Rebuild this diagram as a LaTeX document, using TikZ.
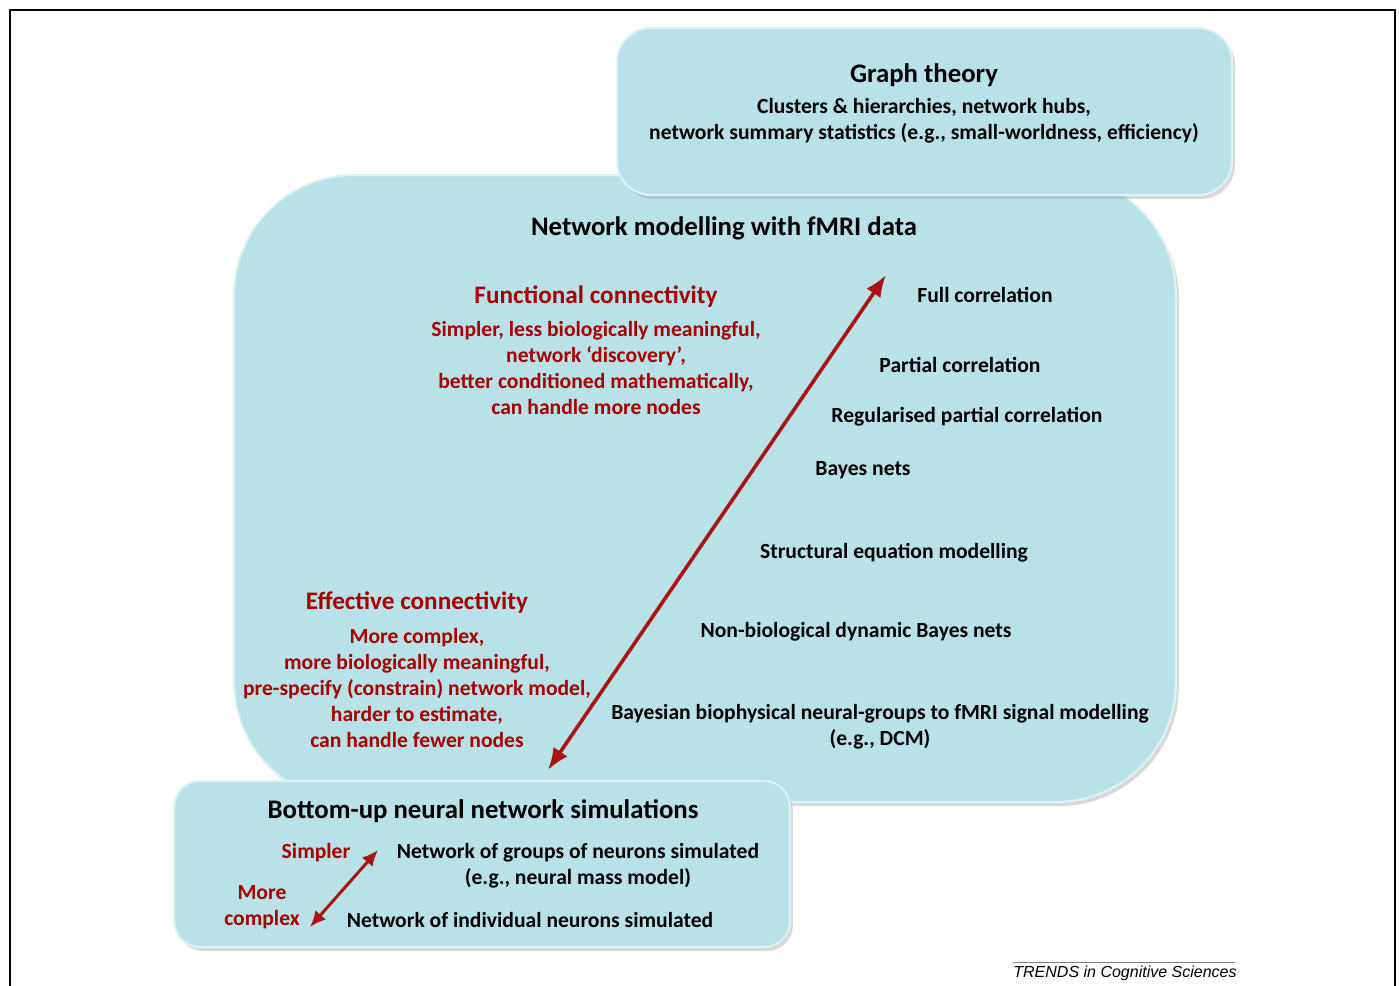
\documentclass[tikz,border=0pt]{standalone}
\usepackage{fontspec}
\setmainfont{Carlito}
\newfontfamily\trendsfont{Liberation Sans}
\usetikzlibrary{arrows.meta,shadows}

\definecolor{boxfill}{RGB}{184,226,232}
\definecolor{boxedge}{RGB}{222,243,246}
\definecolor{darkred}{RGB}{166,0,0}
\definecolor{arrowred}{RGB}{170,20,20}

\tikzset{
  panel/.style={fill=boxfill, draw=boxedge, line width=1pt,
    drop shadow={opacity=0.3, shadow xshift=1.5pt, shadow yshift=-2pt}},
  boxtitle/.style={font=\fontsize{13.4}{16}\selectfont\bfseries, text=black, inner sep=0pt, yshift=-1pt},
  redhead/.style={font=\fontsize{12.6}{15}\selectfont\bfseries, text=darkred, inner sep=0pt, yshift=-1pt},
  itemtext/.style={font=\fontsize{10.8}{13}\selectfont\bfseries, align=center, text=black, inner sep=0pt, yshift=-1pt},
  redtext/.style={itemtext, text=darkred},
  bigarrow/.style={arrowred, line width=1.8pt, {Latex[length=11pt,width=8.5pt]}-{Latex[length=11pt,width=8.5pt]}},
  smallarrow/.style={arrowred, line width=1.5pt, {Latex[length=8pt,width=7pt]}-{Latex[length=8pt,width=7pt]}}
}

\begin{document}
\begin{tikzpicture}[x=0.5pt, y=-0.5pt]
\useasboundingbox (0,0) rectangle (1399,986);
\draw[line width=0.6pt] (10,10) rectangle (1395,1010);

% boxes
\path[panel, rounded corners=60pt] (234,175) rectangle (1176,802);
\path[panel, rounded corners=17pt] (617,28) rectangle (1232,195);
\path[panel, rounded corners=13pt] (174,781) rectangle (790,947);

% graph theory
\node[boxtitle] (graph) at (924,73) {Graph theory};
\node[itemtext] (graphtext) at (924,119) {Clusters \& hierarchies, network hubs,\\network summary statistics (e.g., small-worldness, efficiency)};

% fMRI network modelling
\node[boxtitle] (fmri) at (724,226) {Network modelling with fMRI data};
\node[redhead] (func) at (596,295) {Functional connectivity};
\node[redtext] (functext) at (596,366) {Simpler, less biologically meaningful,\\network ‘discovery’,\\better conditioned mathematically,\\can handle more nodes};
\node[redhead] (eff) at (417,601) {Effective connectivity};
\node[redtext] (efftext) at (417,686) {More complex,\\more biologically meaningful,\\pre-specify (constrain) network model,\\harder to estimate,\\can handle fewer nodes};
\foreach \x/\y/\t [count=\i] in {985/293/Full correlation, 960/363/Partial correlation,
    967/415/Regularised partial correlation, 863/468/Bayes nets,
    894/551/Structural equation modelling, 856/630/Non-biological dynamic Bayes nets}
  \node[itemtext] (method\i) at (\x,\y) {\t};
\node[itemtext] (dcm) at (880,725) {Bayesian biophysical neural-groups to fMRI signal modelling\\(e.g., DCM)};
\coordinate (fcEnd) at (886,275);
\coordinate (ecEnd) at (548,770);
\draw[bigarrow] (ecEnd) -- (fcEnd);

% bottom-up simulations
\node[boxtitle] (bottomup) at (483,809) {Bottom-up neural network simulations};
\node[redtext] (simpler) at (316,851) {Simpler};
\node[redtext] (complex) at (262,905) {More\\complex};
\node[itemtext] (groups) at (578,864) {Network of groups of neurons simulated\\(e.g., neural mass model)};
\node[itemtext] (single) at (530,918) {Network of individual neurons simulated};
\coordinate (simEnd) at (378,850);
\coordinate (cxEnd) at (310,927);
\draw[smallarrow] (cxEnd) -- (simEnd);

\draw[gray, line width=0.4pt] (1013,962) -- (1235,962);
\node[font=\trendsfont\itshape\fontsize{8}{10}\selectfont, anchor=west, inner sep=0pt] (trends) at (1013,973) {TRENDS in Cognitive Sciences};
\end{tikzpicture}
\end{document}
